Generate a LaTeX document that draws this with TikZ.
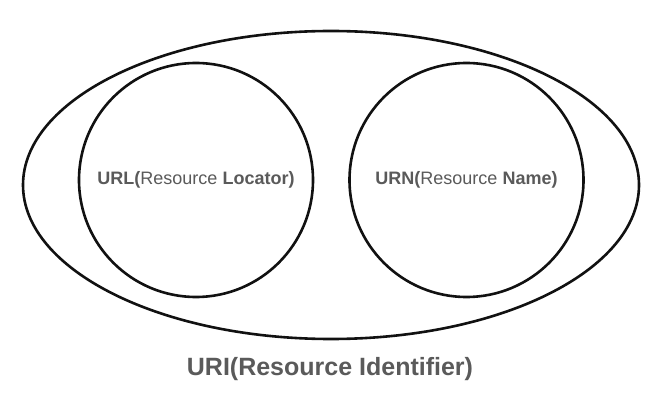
\documentclass[tikz,border=0pt]{standalone}
\usepackage{fontspec}
\setmainfont{Liberation Sans}
\usepackage{xcolor}
\usepackage{tikz}
\usetikzlibrary{positioning,shapes.geometric}
\definecolor{UriInk}{HTML}{111111}
\definecolor{UriGray}{HTML}{5A5A5A}

\begin{document}
\begin{tikzpicture}[x=1pt, y=-1pt,
  outer/.style={ellipse, draw=UriInk, line width=2.6pt, minimum width=616pt, minimum height=308pt, inner sep=0pt},
  inner/.style={circle, draw=UriInk, line width=2.6pt, minimum size=234pt, inner sep=0pt, text=UriGray, font=\fontsize{18}{22}\selectfont},
  caption/.style={text=UriGray, font=\fontsize{25}{29}\selectfont\bfseries}]
\useasboundingbox[fill=white] (0,0) rectangle (669,403);
\node[outer] (uri) at (331,185) {};
\node[inner] (url) at (196,180) {\textbf{URL(}Resource \textbf{Locator)}};
\node[inner] (urn) at (466.5,180) {\textbf{URN(}Resource \textbf{Name)}};
\node[caption] (urilabel) at (330,369) {URI(Resource Identifier)};
\end{tikzpicture}
\end{document}
